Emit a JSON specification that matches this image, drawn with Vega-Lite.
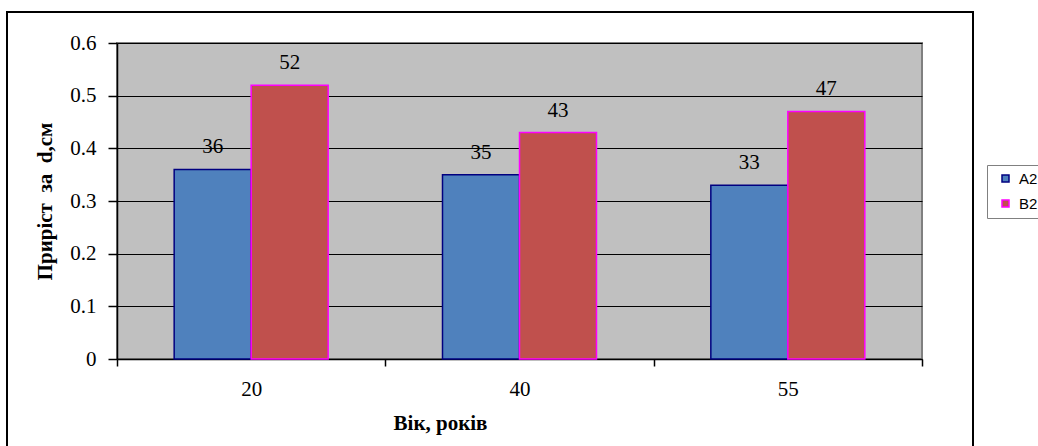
{
  "$schema": "https://vega.github.io/schema/vega-lite/v6.json",
  "autosize": {"type": "none"},
  "padding": {"left": 117, "top": 43, "right": 116, "bottom": 87},
  "width": 805,
  "height": 316,
  "background": "white",
  "config": {
    "font": "Liberation Serif",
    "view": {"fill": "#C0C0C0", "stroke": "#808080", "strokeWidth": 2},
    "text": {"font": "Liberation Serif"},
    "axis": {
      "labelFont": "Liberation Serif",
      "titleFont": "Liberation Serif",
      "labelColor": "black",
      "titleColor": "black",
      "labelFontSize": 21,
      "titleFontSize": 21,
      "titleFontWeight": "bold",
      "domainColor": "black",
      "tickColor": "black",
      "gridColor": "black",
      "domainWidth": 1.5,
      "tickWidth": 1.5,
      "gridWidth": 1,
      "gridOpacity": 1
    },
    "legend": {
      "orient": "none",
      "legendX": 870,
      "legendY": 122,
      "strokeColor": "#808080",
      "fillColor": "white",
      "padding": 6,
      "symbolType": "square",
      "symbolSize": 49,
      "symbolStrokeWidth": 1.5,
      "symbolOffset": 5,
      "labelFont": "Liberation Sans",
      "labelFontSize": 15,
      "labelColor": "black",
      "labelOffset": 6,
      "rowPadding": 9
    }
  },
  "datasets": {
    "frame": [{"x0": 0, "x1": 1, "y0": 0, "y1": 1}],
    "bars": [
      {"age": "20", "series": "A2", "value": 0.36, "label": "36"},
      {"age": "20", "series": "B2", "value": 0.52, "label": "52"},
      {"age": "40", "series": "A2", "value": 0.35, "label": "35"},
      {"age": "40", "series": "B2", "value": 0.43, "label": "43"},
      {"age": "55", "series": "A2", "value": 0.33, "label": "33"},
      {"age": "55", "series": "B2", "value": 0.47, "label": "47"}
    ]
  },
  "layer": [
    {
      "data": {"name": "frame"},
      "mark": {"type": "rect", "filled": false, "stroke": "black", "strokeWidth": 2},
      "encoding": {
        "x": {"field": "x0", "type": "quantitative", "scale": {"domain": [0, 1], "range": [-110, 856]}, "axis": null},
        "x2": {"field": "x1"},
        "y": {"field": "y0", "type": "quantitative", "scale": {"domain": [0, 1], "range": [408, -31]}, "axis": null},
        "y2": {"field": "y1"}
      }
    },
    {
      "data": {"name": "bars"},
      "encoding": {
        "x": {
          "field": "age",
          "type": "nominal",
          "sort": ["20", "40", "55"],
          "scale": {"paddingInner": 0, "paddingOuter": 0},
          "axis": {
            "tickBand": "extent",
            "tickSize": 7,
            "labelAngle": 0,
            "labelPadding": 12,
            "labelFont": "Times New Roman",
            "grid": false,
            "title": "Вік, років",
            "titleX": 323,
            "titleY": 70,
            "titleBaseline": "alphabetic",
            "titleAlign": "center"
          }
        },
        "xOffset": {
          "field": "series",
          "type": "nominal",
          "scale": {"domain": ["A2", "B2"], "paddingInner": 0, "paddingOuter": 0.7425}
        },
        "y": {
          "field": "value",
          "type": "quantitative",
          "scale": {"domain": [0, 0.6], "nice": false},
          "axis": {
            "values": [0, 0.1, 0.2, 0.3, 0.4, 0.5, 0.6],
            "format": "~g",
            "grid": true,
            "tickSize": 9,
            "labelPadding": 12,
            "labelFont": "Times New Roman",
            "title": "Приріст\u00a0\u00a0за\u00a0\u00a0d,см",
            "titlePadding": 14
          }
        }
      },
      "layer": [
        {
          "mark": {"type": "bar", "strokeWidth": 1.5},
          "encoding": {
            "fill": {
              "field": "series",
              "type": "nominal",
              "scale": {"domain": ["A2", "B2"], "range": ["#4F81BD", "#C0504D"]},
              "legend": {"title": null, "labelFontSize": 15, "labelFont": "Liberation Sans"}
            },
            "stroke": {
              "field": "series",
              "type": "nominal",
              "scale": {"domain": ["A2", "B2"], "range": ["#000080", "#FF00FF"]},
              "legend": {"title": null, "labelFontSize": 15, "labelFont": "Liberation Sans"}
            }
          }
        },
        {
          "mark": {"type": "text", "dy": -22, "baseline": "middle", "font": "Times New Roman", "fontSize": 21, "color": "black"},
          "encoding": {
            "text": {"field": "label", "type": "nominal"}
          }
        }
      ]
    }
  ],
  "resolve": {"scale": {"x": "independent", "y": "independent"}}
}
